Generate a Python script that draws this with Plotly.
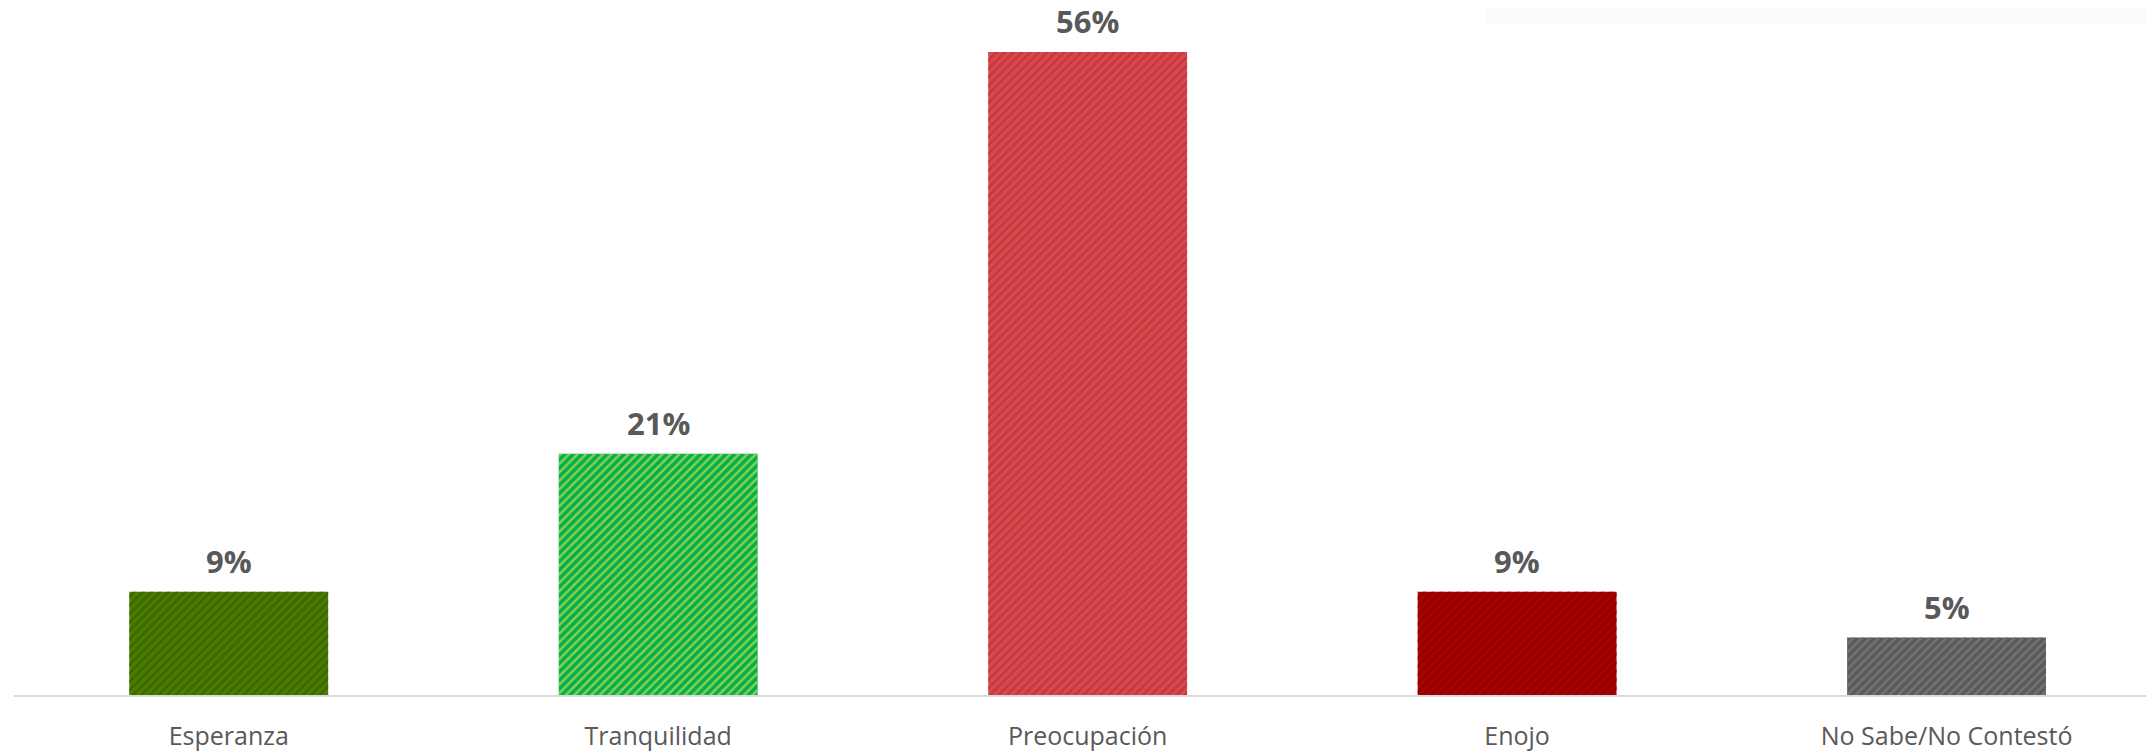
import plotly.graph_objects as go

categories = ["Esperanza", "Tranquilidad", "Preocupación", "Enojo", "No Sabe/No Contestó"]
values = [9, 21, 56, 9, 5]
value_labels = ["9%", "21%", "56%", "9%", "5%"]

bg_colors = ["#4a7c00", "#00b050", "#d9474c", "#aa0000", "#5a5a5a"]
fg_colors = ["#3c6600", "#8fd04c", "#bf383d", "#8e0000", "#747474"]

fig = go.Figure()
# solid base bars
fig.add_trace(go.Bar(
    x=categories, y=values, width=0.463,
    marker=dict(color=bg_colors, line=dict(width=0)),
    hoverinfo="skip",
))
# diagonal stripe overlay
fig.add_trace(go.Bar(
    x=categories, y=values, width=0.463,
    marker=dict(
        color="rgba(0,0,0,0)",
        line=dict(width=0),
        pattern=dict(shape="/", fgcolor=fg_colors, bgcolor="rgba(0,0,0,0)",
                     size=6, solidity=0.4, fillmode="replace", fgopacity=1),
    ),
    hoverinfo="skip",
))

for c, v, t in zip(categories, values, value_labels):
    fig.add_annotation(x=c, y=v, text=f"<b>{t}</b>", showarrow=False,
                       yanchor="bottom", yshift=9, borderpad=0,
                       font=dict(family="Open Sans, Noto Sans, sans-serif", size=31, color="#595959"))

fig.add_shape(type="rect", xref="paper", yref="paper", x0=0.688, x1=1.0, y0=0.978, y1=1.02,
              fillcolor="#fafbfd", line=dict(width=0), layer="below")

fig.update_layout(
    width=2146, height=746,
    margin=dict(l=6, r=0, t=0, b=59),
    paper_bgcolor="white", plot_bgcolor="white",
    showlegend=False, barmode="overlay",
    xaxis=dict(range=[-0.5, 4.483], showline=True, linecolor="#d9d9d9", linewidth=2,
               ticks="", showgrid=False, zeroline=False,
               tickfont=dict(family="Open Sans, Noto Sans, sans-serif", size=25, color="#595959"),
               ticklabelstandoff=18),
    yaxis=dict(range=[0, 59.83], visible=False, showgrid=False, zeroline=False),
)

fig.write_html("out.html")
